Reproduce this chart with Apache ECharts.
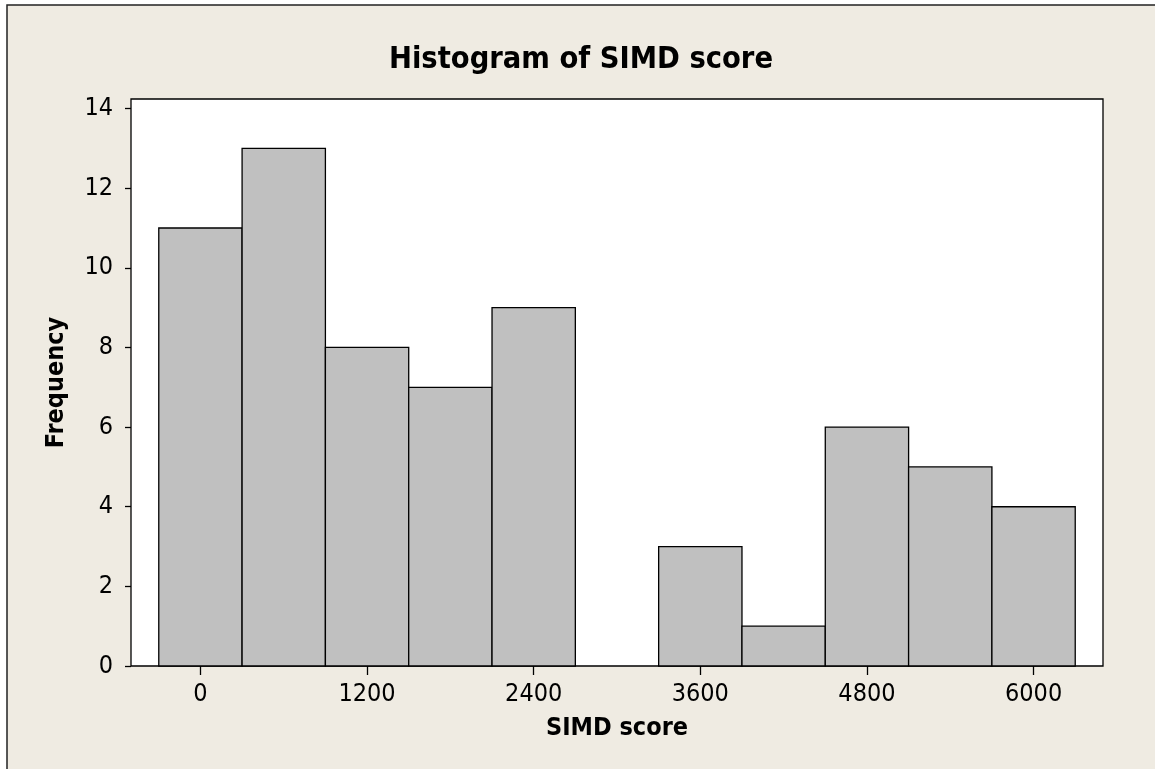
<!DOCTYPE html>
<html>
<head>
<meta charset="utf-8">
<title>Histogram of SIMD score</title>
<script src="https://cdn.jsdelivr.net/npm/echarts@6/dist/echarts.min.js"></script>
<style>
  html, body { margin: 0; padding: 0; background: #fff; }
  #main { width: 1155px; height: 769px; }
</style>
</head>
<body>
<div id="main"></div>
<script>
  // bin centres (SIMD score) and counts
  var binCenters = [0, 600, 1200, 1800, 2400, 3000, 3600, 4200, 4800, 5400, 6000];
  var frequency = [11, 13, 8, 7, 9, 0, 3, 1, 6, 5, 4];
  var binWidth = 600;
  var xTicks = [0, 1200, 2400, 3600, 4800, 6000];
  var yTicks = [0, 2, 4, 6, 8, 10, 12, 14];

  var FONT = '"DejaVu Sans Condensed", "Liberation Sans", sans-serif';

  var chart = echarts.init(document.getElementById('main'));

  var bars = binCenters.map(function (c, i) {
    return [c - binWidth / 2, c + binWidth / 2, frequency[i]];
  });

  var option = {
    animation: false,
    backgroundColor: '#fff',
    graphic: [{
      type: 'rect',
      z: -10,
      shape: { x: 7, y: 5, width: 1170, height: 790 },
      style: { fill: '#EFEBE2', stroke: '#222', lineWidth: 1.5 }
    }],
    title: {
      text: 'Histogram of SIMD score',
      left: 576,
      textAlign: 'center',
      top: 40,
      textStyle: { fontFamily: FONT, fontSize: 30.5, fontWeight: 'bold', color: '#000' }
    },
    grid: {
      left: 131, right: 52, top: 99, bottom: 103,
      show: true,
      backgroundColor: '#fff',
      borderColor: '#000',
      borderWidth: 1.3
    },
    xAxis: {
      type: 'value',
      min: -500,
      max: 6500,
      name: 'SIMD score',
      nameLocation: 'middle',
      nameGap: 50,
      nameTextStyle: { fontFamily: FONT, fontSize: 25, fontWeight: 'bold', color: '#000' },
      axisLine: { show: false, onZero: false },
      splitLine: { show: false },
      axisTick: { show: true, length: 9, customValues: xTicks, lineStyle: { color: '#000', width: 1.3 } },
      axisLabel: {
        customValues: xTicks, margin: 16, fontFamily: FONT, fontSize: 25, color: '#000',
        formatter: function (v) { return String(v); }
      }
    },
    yAxis: {
      type: 'value',
      min: 0,
      max: 14.24,
      name: 'Frequency',
      nameLocation: 'middle',
      nameGap: 62,
      nameTextStyle: { fontFamily: FONT, fontSize: 25, fontWeight: 'bold', color: '#000' },
      axisLine: { show: false, onZero: false },
      splitLine: { show: false },
      axisTick: { show: true, length: 6, customValues: yTicks, lineStyle: { color: '#000', width: 1.3 } },
      axisLabel: {
        customValues: yTicks, margin: 18, fontFamily: FONT, fontSize: 25, color: '#000',
        formatter: function (v) { return String(v); }
      }
    },
    series: [{
      type: 'custom',
      data: bars,
      encode: { x: [0, 1], y: 2 },
      renderItem: function (params, api) {
        var h = api.value(2);
        if (!h) return null;
        var p0 = api.coord([api.value(0), h]);
        var p1 = api.coord([api.value(1), 0]);
        return {
          type: 'rect',
          shape: { x: p0[0], y: p0[1], width: p1[0] - p0[0], height: p1[1] - p0[1] },
          style: { fill: '#C0C0C0', stroke: '#000', lineWidth: 1.3 }
        };
      }
    }]
  };

  chart.setOption(option);
</script>
</body>
</html>
